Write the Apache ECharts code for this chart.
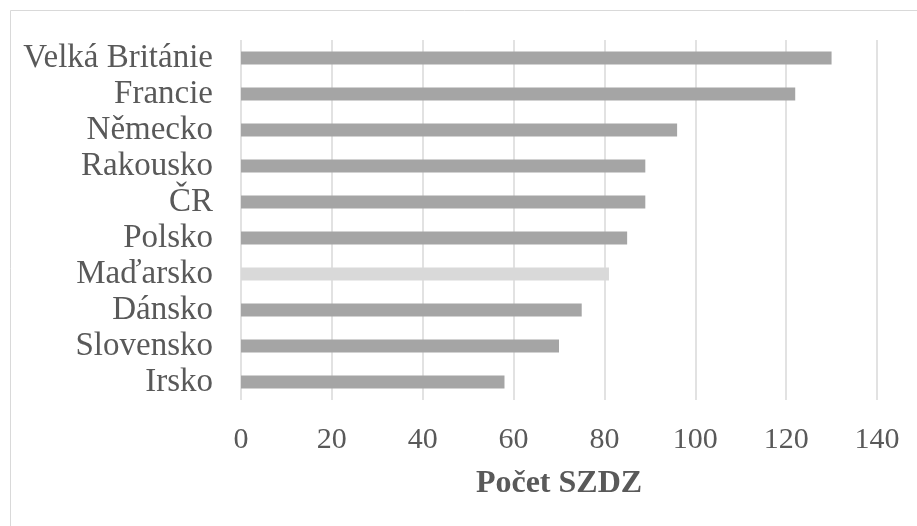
<!DOCTYPE html>
<html>
<head>
<meta charset="utf-8">
<script src="https://cdn.jsdelivr.net/npm/echarts@6/dist/echarts.min.js"></script>
<style>
html,body{margin:0;padding:0;background:#fff;}
#c{width:917px;height:526px;}
</style>
</head>
<body>
<div id="c"></div>
<script>
const categories = ['Velká Británie','Francie','Německo','Rakousko','ČR','Polsko','Maďarsko','Dánsko','Slovensko','Irsko'];
const values = [130,122,96,89,89,85,81,75,70,58];
const highlighted = ['Maďarsko'];
const xTicks = {min:0, max:140, interval:20};
const axisTitle = 'Počet SZDZ';

const chart = echarts.init(document.getElementById('c'), null, {renderer:'canvas'});
const font = '"Liberation Serif","Times New Roman",serif';
chart.setOption({
  animation:false,
  backgroundColor:'#fff',
  graphic:[{type:'rect', shape:{x:10.5,y:10.5,width:930,height:540}, style:{fill:'none', stroke:'#d9d9d9', lineWidth:1}, silent:true}],
  grid:{left:241, right:40, top:40, bottom:126, containLabel:false},
  xAxis:{
    type:'value', min:xTicks.min, max:xTicks.max, interval:xTicks.interval,
    name:axisTitle, nameLocation:'middle', nameGap:68,
    nameTextStyle:{fontFamily:font, fontSize:32, fontWeight:'bold', color:'#595959'},
    axisLine:{show:false}, axisTick:{show:false},
    axisLabel:{fontFamily:font, fontSize:30, color:'#595959', margin:25},
    splitLine:{show:true, lineStyle:{color:'#d9d9d9', width:1.5}}
  },
  yAxis:{
    type:'category', data:categories, inverse:true,
    axisLine:{show:false}, axisTick:{show:false},
    axisLabel:{fontFamily:font, fontSize:33, color:'#595959', margin:28, interval:0},
    splitLine:{show:false}
  },
  series:[{
    type:'bar', barWidth:13,
    data: values.map((v,i)=>({value:v, itemStyle:{color: highlighted.includes(categories[i]) ? '#d9d9d9' : '#a5a5a5'}}))
  }]
});
</script>
</body>
</html>
